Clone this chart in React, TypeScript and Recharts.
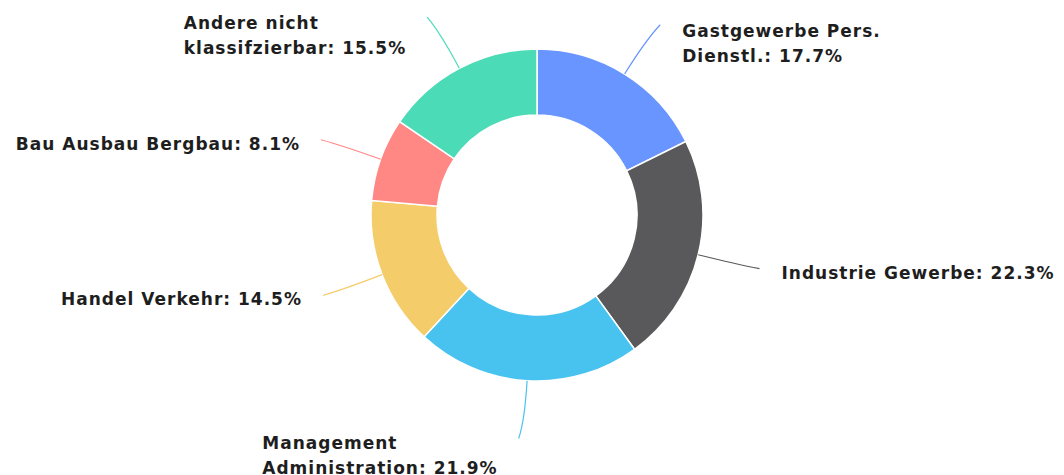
import { PieChart, Pie, Cell } from 'recharts';

// Branchenverteilung – donut with outside labels

const NAMES = [
  'Gastgewerbe Pers. Dienstl.',
  'Industrie Gewerbe',
  'Management Administration',
  'Handel Verkehr',
  'Bau Ausbau Bergbau',
  'Andere nicht klassifzierbar',
];
const SHARES = [17.7, 22.3, 21.9, 14.5, 8.1, 15.5];
const COLORS = ['#6895ff', '#59595b', '#48c3f0', '#f4cd6a', '#ff8784', '#4cdbb7'];

const data = NAMES.map((name, i) => ({ name, value: SHARES[i] }));

const FONT = 'bold 17px "DejaVu Sans"';
const SPACING = 1;
const MAX_NAME = 235;
const LINE_H = 25;
const RADIAN = Math.PI / 180;

let ctx: CanvasRenderingContext2D | null = null;
function measure(text: string) {
  if (!ctx) ctx = document.createElement('canvas').getContext('2d');
  if (!ctx) return text.length * 10;
  ctx.font = FONT;
  (ctx as any).letterSpacing = `${SPACING}px`;
  return ctx.measureText(text).width;
}

// wrap the category name, then hang the percentage on its last line
function wrapName(name: string) {
  const words = name.split(' ');
  const lines: string[] = [];
  let cur = '';
  words.forEach((w) => {
    const next = cur ? `${cur} ${w}` : w;
    if (cur && measure(next) > MAX_NAME) {
      lines.push(cur);
      cur = w;
    } else {
      cur = next;
    }
  });
  if (cur) lines.push(cur);
  return lines;
}

const renderLabel = (props: any) => {
  const { cx, cy, midAngle, outerRadius, name, value, fill } = props;
  const cos = Math.cos(-midAngle * RADIAN);
  const sin = Math.sin(-midAngle * RADIAN);
  const side = cos >= 0 ? 1 : -1;
  const sx = cx + outerRadius * cos;
  const sy = cy + outerRadius * sin;
  const mx = cx + (outerRadius + 40) * cos;
  const my = cy + (outerRadius + 40) * sin;
  const ex = cx + (outerRadius + 58) * cos + side * 5;
  const ey = cy + (outerRadius + 58) * sin;

  const lines = wrapName(name);
  lines[lines.length - 1] += `: ${value.toFixed(1)}%`;
  const blockW = Math.max(...lines.map(measure));
  const tx = side > 0 ? ex + 22 : ex - 21 - blockW;
  const ty = ey + (sin < -0.5 ? 12 : 10);

  return (
    <g>
      <path d={`M${sx},${sy}Q${mx},${my} ${ex},${ey}`} stroke={fill} fill="none" strokeWidth={1.2} />
      <text
        x={tx}
        y={ty}
        fill="#1e1e1e"
        fontFamily='"DejaVu Sans"'
        fontWeight="bold"
        fontSize={17}
        letterSpacing={SPACING}
        textAnchor="start"
      >
        {lines.map((l, i) => (
          <tspan key={i} x={tx} dy={i === 0 ? 0 : LINE_H}>
            {l}
          </tspan>
        ))}
      </text>
    </g>
  );
};

export default function App() {
  return (
    <div style={{ position: 'absolute', left: 0, top: 0, width: 1064, height: 475, background: '#fff' }}>
      <PieChart width={1064} height={475} margin={{ top: 0, right: 0, bottom: 0, left: 0 }}>
        <Pie
          data={data}
          dataKey="value"
          nameKey="name"
          cx={537}
          cy={215}
          innerRadius={100}
          outerRadius={166}
          startAngle={90}
          endAngle={-270}
          stroke="#ffffff"
          strokeWidth={1.5}
          label={renderLabel}
          labelLine={false}
          isAnimationActive={false}
        >
          {data.map((d, i) => (
            <Cell key={d.name} fill={COLORS[i]} />
          ))}
        </Pie>
      </PieChart>
    </div>
  );
}
